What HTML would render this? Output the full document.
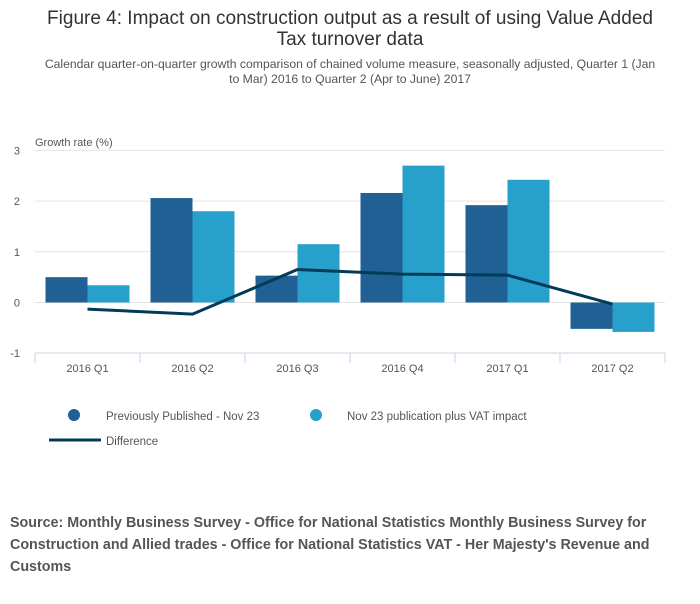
<!DOCTYPE html>
<html><head><meta charset="utf-8"><style>
body{margin:0;background:#fff;width:700px;height:599px;overflow:hidden;font-family:"Liberation Sans",sans-serif}
</style></head><body>
<svg width="700" height="599" xmlns="http://www.w3.org/2000/svg">
<text x="350" y="24" text-anchor="middle" font-size="19" fill="#333">Figure 4: Impact on construction output as a result of using Value Added</text>
<text x="350" y="45" text-anchor="middle" font-size="19" fill="#333">Tax turnover data</text>
<text x="350" y="68" text-anchor="middle" font-size="12.2" fill="#555">Calendar quarter-on-quarter growth comparison of chained volume measure, seasonally adjusted, Quarter 1 (Jan</text>
<text x="350" y="83" text-anchor="middle" font-size="12.2" fill="#555">to Mar) 2016 to Quarter 2 (Apr to June) 2017</text>
<text x="35" y="146" font-size="11" fill="#555">Growth rate (%)</text>
<g id="grid"></g><g id="bars"></g><g id="line"></g><g id="xaxis"></g>
<g>
<circle cx="74" cy="415" r="6" fill="#206095"/>
<text x="106" y="420" font-size="11.5" fill="#555">Previously Published - Nov 23</text>
<circle cx="316" cy="415" r="6" fill="#27a0cc"/>
<text x="347" y="420" font-size="11.5" fill="#555">Nov 23 publication plus VAT impact</text>
<line x1="49" y1="440" x2="101" y2="440" stroke="#003c57" stroke-width="3"/>
<text x="106" y="445" font-size="11.5" fill="#555">Difference</text>
</g>
<g font-size="14.3" font-weight="bold" fill="#555">
<text x="10" y="527">Source: Monthly Business Survey - Office for National Statistics Monthly Business Survey for</text>
<text x="10" y="549">Construction and Allied trades - Office for National Statistics VAT - Her Majesty's Revenue and</text>
<text x="10" y="571">Customs</text>
</g>
</svg>
<script>
const categories=["2016 Q1","2016 Q2","2016 Q3","2016 Q4","2017 Q1","2017 Q2"];
const previous=[0.50,2.06,0.53,2.16,1.92,-0.52];
const withVat=[0.34,1.80,1.15,2.70,2.42,-0.58];
const difference=[-0.13,-0.23,0.65,0.56,0.54,-0.03];
const yTicks=[3,2,1,0,-1];
const NS="http://www.w3.org/2000/svg";
const X0=35,X1=665,band=(X1-X0)/categories.length;
function y(v){return 302.5-v*50.7;}
function xc(i){return X0+band*(i+0.5);}
function mk(t,a,p){const e=document.createElementNS(NS,t);for(const k in a)e.setAttribute(k,a[k]);p.appendChild(e);return e;}
const grid=document.getElementById('grid'),bars=document.getElementById('bars'),line=document.getElementById('line'),xa=document.getElementById('xaxis');
yTicks.forEach(v=>{
 if(v>-1){const l=mk('line',{x1:X0,x2:X1,y1:y(v),y2:y(v),stroke:'#e4e4e4','stroke-width':1},grid);
 
 }
 const t=mk('text',{x:20,y:y(v)+4,'font-size':11,fill:'#555','text-anchor':'end'},grid);t.textContent=v;
 
 
});
const bw=42;
categories.forEach((c,i)=>{
 [[previous[i],'#206095',-bw],[withVat[i],'#27a0cc',0]].forEach(([v,col,off],j)=>{
  const r=mk('rect',{x:xc(i)+off,y:Math.min(y(v),y(0)),width:bw,height:Math.abs(y(v)-y(0)),fill:col},bars);
  
  
 });
 const t=mk('text',{x:xc(i),y:372,'font-size':11,fill:'#555','text-anchor':'middle'},xa);t.textContent=c;
 
 
});
const ax=mk('line',{x1:X0,x2:X1,y1:353,y2:353,stroke:'#c8d4e6'},xa);


for(let i=0;i<=categories.length;i++){const t=mk('line',{x1:X0+band*i,x2:X0+band*i,y1:353,y2:363,stroke:'#c8d4e6'},xa);
 
 }
const p=mk('polyline',{points:difference.map((v,i)=>xc(i)+','+y(v)).join(' '),fill:'none',stroke:'#003c57','stroke-width':3},line);


</script>
</body></html>
